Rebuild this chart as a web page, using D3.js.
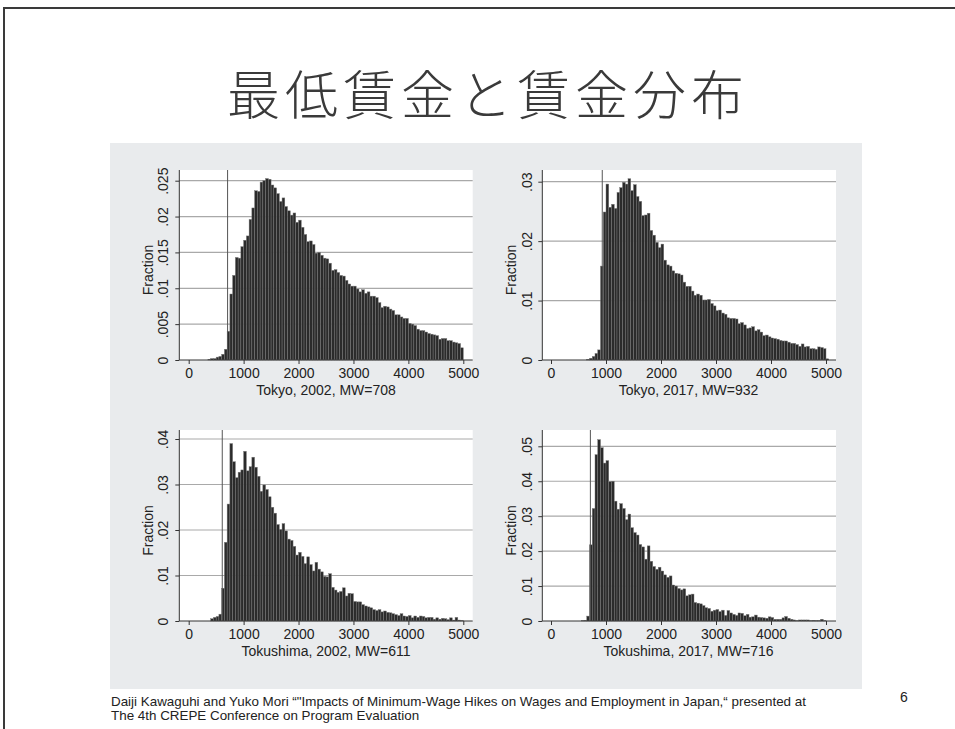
<!DOCTYPE html>
<html>
<head>
<meta charset="utf-8">
<script src="https://cdn.jsdelivr.net/npm/d3@7"></script>
<style>
  html, body { margin: 0; padding: 0; background: #fff; }
  svg { display: block; }
</style>
</head>
<body>
<div id="slide"></div>
<script>
// ---- data (fraction per 50-yen bin) ----
const binWidth = 50;
const xTicks = [0, 1000, 2000, 3000, 4000, 5000];

const tokyo2002 = [
  0, 0, 0, 0, 0, 0, 0, 0.0001, 0.0002, 0.0002,
  0.0004, 0.0005, 0.0008, 0.0015, 0.0040, 0.0092, 0.0118, 0.0143, 0.0142, 0.0158,
  0.0167, 0.0173, 0.0196, 0.0212, 0.0236, 0.0235, 0.0248, 0.0250, 0.0253, 0.0252,
  0.0244, 0.0240, 0.0232, 0.0221, 0.0226, 0.0214, 0.0208, 0.0202, 0.0205, 0.0192,
  0.0195, 0.0185, 0.0175, 0.0165, 0.0166, 0.0161, 0.0149, 0.0150, 0.0146, 0.0142,
  0.0141, 0.0135, 0.0125, 0.0126, 0.0122, 0.0118, 0.0117, 0.0111, 0.0106, 0.0103,
  0.0103, 0.0099, 0.0095, 0.0098, 0.0093, 0.0095, 0.0089, 0.0089, 0.0087, 0.0080,
  0.0073, 0.0075, 0.0074, 0.0071, 0.0069, 0.0063, 0.0063, 0.0060, 0.0058, 0.0058,
  0.0051, 0.0050, 0.0048, 0.0043, 0.0041, 0.0041, 0.0039, 0.0037, 0.0036, 0.0035,
  0.0034, 0.0029, 0.0030, 0.0030, 0.0027, 0.0027, 0.0025, 0.0024, 0.0023, 0.0017
];

const tokyo2017 = [
  0, 0, 0, 0, 0, 0, 0, 0, 0, 0,
  0, 0, 0, 0.0001, 0.0003, 0.0006, 0.0011, 0.0017, 0.0158, 0.0249,
  0.0296, 0.0257, 0.0262, 0.0255, 0.0282, 0.0290, 0.0299, 0.0296, 0.0305, 0.0285,
  0.0295, 0.0275, 0.0267, 0.0243, 0.0244, 0.0247, 0.0218, 0.0210, 0.0198, 0.0189,
  0.0195, 0.0168, 0.0160, 0.0158, 0.0150, 0.0146, 0.0145, 0.0143, 0.0131, 0.0124,
  0.0124, 0.0116, 0.0109, 0.0111, 0.0109, 0.0101, 0.0101, 0.0102, 0.0095, 0.0091,
  0.0083, 0.0084, 0.0079, 0.0077, 0.0071, 0.0070, 0.0070, 0.0069, 0.0061, 0.0063,
  0.0059, 0.0053, 0.0054, 0.0056, 0.0049, 0.0051, 0.0047, 0.0041, 0.0042, 0.0039,
  0.0037, 0.0036, 0.0035, 0.0033, 0.0032, 0.0032, 0.0030, 0.0028, 0.0028, 0.0026,
  0.0023, 0.0027, 0.0022, 0.0023, 0.0019, 0.0019, 0.0018, 0.0022, 0.0021, 0.0019,
  0.0002
];

const tokushima2002 = [
  0, 0, 0, 0, 0, 0, 0, 0, 0.0005, 0.0008,
  0.0010, 0.0015, 0.0072, 0.0173, 0.0257, 0.0390, 0.0350, 0.0315, 0.0327, 0.0332,
  0.0373, 0.0330, 0.0339, 0.0360, 0.0338, 0.0318, 0.0285, 0.0299, 0.0289, 0.0273,
  0.0250, 0.0237, 0.0212, 0.0201, 0.0214, 0.0198, 0.0180, 0.0177, 0.0164, 0.0145,
  0.0151, 0.0142, 0.0126, 0.0141, 0.0124, 0.0110, 0.0129, 0.0114, 0.0108, 0.0098,
  0.0097, 0.0104, 0.0074, 0.0068, 0.0063, 0.0065, 0.0073, 0.0055, 0.0061, 0.0060,
  0.0043, 0.0042, 0.0042, 0.0036, 0.0033, 0.0031, 0.0029, 0.0025, 0.0023, 0.0025,
  0.0020, 0.0022, 0.0019, 0.0018, 0.0016, 0.0014, 0.0012, 0.0016, 0.0011, 0.0010,
  0.0012, 0.0007, 0.0011, 0.0008, 0.0011, 0.0010, 0.0007, 0.0008, 0.0008, 0.0004,
  0.0007, 0.0004, 0.0006, 0.0005, 0.0003, 0.0007, 0.0002, 0.0008, 0.0002, 0.0001
];

const tokushima2017 = [
  0, 0, 0, 0, 0, 0, 0, 0, 0, 0,
  0, 0.0001, 0.0002, 0.0014, 0.0218, 0.0322, 0.0476, 0.0519, 0.0496, 0.0452,
  0.0459, 0.0399, 0.0400, 0.0343, 0.0320, 0.0336, 0.0322, 0.0290, 0.0306, 0.0267,
  0.0253, 0.0246, 0.0219, 0.0212, 0.0177, 0.0215, 0.0171, 0.0156, 0.0148, 0.0154,
  0.0143, 0.0132, 0.0125, 0.0129, 0.0103, 0.0100, 0.0093, 0.0089, 0.0092, 0.0072,
  0.0075, 0.0077, 0.0053, 0.0051, 0.0049, 0.0044, 0.0038, 0.0036, 0.0028, 0.0031,
  0.0033, 0.0027, 0.0031, 0.0016, 0.0030, 0.0023, 0.0019, 0.0016, 0.0023, 0.0022,
  0.0015, 0.0019, 0.0011, 0.0012, 0.0017, 0.0011, 0.0010, 0.0009, 0.0008, 0.0012,
  0.0010, 0.0005, 0.0005, 0.0005, 0.0009, 0.0013, 0.0008, 0.0005, 0.0003, 0.0001,
  0.0003, 0.0003, 0.0003, 0.0003, 0.0001, 0.0002, 0.0001, 0.0001, 0.0005, 0.0001
];

const panelTitles = ["Tokyo, 2002, MW=708", "Tokyo, 2017, MW=932",
                     "Tokushima, 2002, MW=611", "Tokushima, 2017, MW=716"];
const minWages = [708, 932, 611, 716];
const yTicksTokyo2002 = [0, 0.005, 0.01, 0.015, 0.02, 0.025];
const yTicksTokyo2017 = [0, 0.01, 0.02, 0.03];
const yTicksTokushima2002 = [0, 0.01, 0.02, 0.03, 0.04];
const yTicksTokushima2017 = [0, 0.01, 0.02, 0.03, 0.04, 0.05];

// ---- slide ----
const W = 955, H = 729;
const svg = d3.select("#slide").append("svg")
  .attr("width", W).attr("height", H);

// slide frame (top and left rules)
svg.append("path")
  .attr("d", `M4,${H} L4,8 L${W},8`)
  .attr("fill", "none").attr("stroke", "#3a3a3a").attr("stroke-width", 2);

svg.append("text")
  .attr("x", 488).attr("y", 115)
  .attr("text-anchor", "middle")
  .style("font-family", "'Noto Sans CJK JP', sans-serif")
  .style("font-weight", 300)
  .style("font-size", "53px")
  .style("letter-spacing", "5px")
  .style("fill", "#3a3a3a")
  .text("最低賃金と賃金分布");

// gray graph area
svg.append("rect")
  .attr("x", 110).attr("y", 143).attr("width", 752).attr("height", 546)
  .attr("fill", "#e9ebed");

// footer
const foot = svg.append("text")
  .attr("x", 111).attr("y", 706)
  .style("font-family", "'Liberation Sans', Arial, sans-serif")
  .style("font-size", "13.4px")
  .style("fill", "#222");
foot.append("tspan").attr("x", 111).attr("dy", 0)
  .text("Daiji Kawaguhi and Yuko Mori \u201c\"Impacts of Minimum-Wage Hikes on Wages and Employment in Japan,\u201c presented at");
foot.append("tspan").attr("x", 111).attr("dy", 14)
  .text("The 4th CREPE Conference on Program Evaluation");

svg.append("text")
  .attr("x", 904).attr("y", 702)
  .attr("text-anchor", "middle")
  .style("font-family", "'Liberation Sans', Arial, sans-serif")
  .style("font-size", "14px")
  .style("fill", "#222")
  .text("6");

// ---- panels ----
const panels = [
  { values: tokyo2002, yTicks: yTicksTokyo2002,
    box: { left: 179.3, right: 472.7, top: 170, bottom: 360 },
    xr: [188.7, 463.3], topTickY: 180.7, labelX: 163, titleX: 148 },
  { values: tokyo2017, yTicks: yTicksTokyo2017,
    box: { left: 542.3, right: 836, top: 170, bottom: 360 },
    xr: [551, 826], topTickY: 181.7, labelX: 527, titleX: 511 },
  { values: tokushima2002, yTicks: yTicksTokushima2002,
    box: { left: 179.3, right: 472.7, top: 430, bottom: 621 },
    xr: [188.7, 463.3], topTickY: 439, labelX: 163, titleX: 148 },
  { values: tokushima2017, yTicks: yTicksTokushima2017,
    box: { left: 542.3, right: 836, top: 430, bottom: 621 },
    xr: [551, 826], topTickY: 446.3, labelX: 527, titleX: 511 }
];

const fmtY = v => v === 0 ? "0" : d3.format(".3~f")(v).replace(/^0/, "");
const font = "'Liberation Sans', Arial, sans-serif";

panels.forEach((p, k) => {
  const b = p.box;
  const x = d3.scaleLinear().domain([0, 5000]).range(p.xr);
  const yMax = p.yTicks[p.yTicks.length - 1];
  const y = d3.scaleLinear().domain([0, yMax]).range([b.bottom, p.topTickY]);
  const g = svg.append("g");

  // white plot region
  g.append("rect")
    .attr("x", b.left).attr("y", b.top)
    .attr("width", b.right - b.left).attr("height", b.bottom - b.top)
    .attr("fill", "#fff");

  // horizontal grid lines
  g.selectAll("line.grid")
    .data(p.yTicks.filter(t => t > 0))
    .enter().append("line")
    .attr("class", "grid")
    .attr("x1", b.left).attr("x2", b.right)
    .attr("y1", d => y(d)).attr("y2", d => y(d))
    .attr("stroke", "#a9a9a9").attr("stroke-width", 1.2);

  // bars
  const bins = p.values.map((v, i) => ({ x0: i * binWidth, x1: (i + 1) * binWidth, v }));
  g.selectAll("rect.bar")
    .data(bins.filter(d => d.v > 0))
    .enter().append("rect")
    .attr("class", "bar")
    .attr("x", d => x(d.x0))
    .attr("width", d => x(d.x1) - x(d.x0))
    .attr("y", d => y(d.v))
    .attr("height", d => y(0) - y(d.v))
    .attr("fill", "#2b2b2b")
    .attr("stroke", "#7a7a7a")
    .attr("stroke-width", 0.45);

  // minimum wage line
  g.append("line")
    .attr("x1", x(minWages[k])).attr("x2", x(minWages[k]))
    .attr("y1", b.top).attr("y2", b.bottom)
    .attr("stroke", "#555").attr("stroke-width", 1);

  // y axis
  const yAxis = g.append("g")
    .attr("transform", `translate(${b.left},0)`)
    .call(d3.axisLeft(y).tickValues(p.yTicks).tickFormat(fmtY).tickSize(4).tickSizeOuter(0));
  yAxis.select(".domain").attr("d", `M0,${b.top}V${b.bottom}`).attr("stroke", "#333");
  yAxis.selectAll(".tick line").attr("stroke", "#333");
  yAxis.selectAll(".tick text")
    .attr("x", 0).attr("dy", 0)
    .attr("transform", `translate(${p.labelX - b.left},0) rotate(-90)`)
    .attr("text-anchor", "middle")
    .attr("dominant-baseline", "central")
    .style("font-family", font).style("font-size", "14px").style("fill", "#222");

  // x axis
  const xAxis = g.append("g")
    .attr("transform", `translate(0,${b.bottom})`)
    .call(d3.axisBottom(x).tickValues(xTicks).tickFormat(d3.format("d")).tickSize(4).tickSizeOuter(0));
  xAxis.select(".domain").attr("d", `M${b.left},0H${b.right}`).attr("stroke", "#333");
  xAxis.selectAll(".tick line").attr("stroke", "#333");
  xAxis.selectAll(".tick text")
    .attr("y", 8)
    .style("font-family", font).style("font-size", "14px").style("fill", "#222");

  // axis titles
  g.append("text")
    .attr("transform", `translate(${p.titleX},${(b.top + b.bottom) / 2 + 5}) rotate(-90)`)
    .attr("text-anchor", "middle")
    .attr("dominant-baseline", "central")
    .style("font-family", font).style("font-size", "14px").style("fill", "#222")
    .text("Fraction");

  g.append("text")
    .attr("x", (p.xr[0] + p.xr[1]) / 2).attr("y", b.bottom + 35)
    .attr("text-anchor", "middle")
    .style("font-family", font).style("font-size", "14px").style("fill", "#222")
    .text(panelTitles[k]);
});
</script>
</body>
</html>
